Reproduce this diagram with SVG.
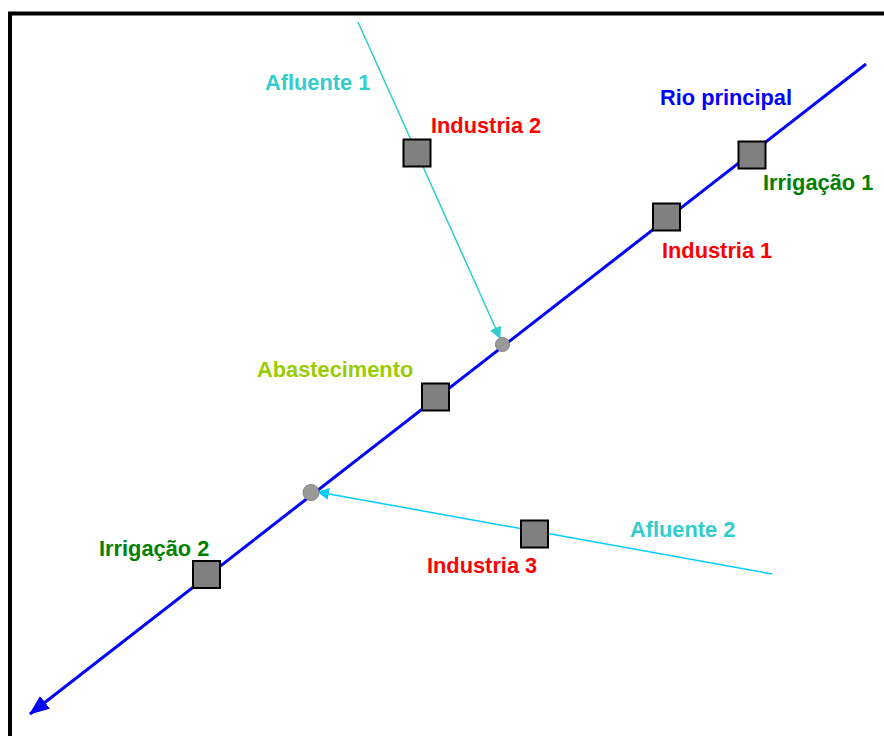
<svg xmlns="http://www.w3.org/2000/svg" width="884" height="736" viewBox="0 0 884 736">
<style>
.lbl{font-family:"Liberation Sans",Arial,sans-serif;font-weight:bold;font-size:21.8px}
.node rect{fill:#808080;stroke:#000;stroke-width:2}
.junc{fill:#999999;stroke:#808080;stroke-width:1}
</style>
<defs>
<marker id="ahBlue" markerUnits="userSpaceOnUse" markerWidth="20" markerHeight="16" viewBox="0 0 20 16" refX="19" refY="8" orient="auto">
<path d="M0,0 L20,8 L0,16 z" fill="#0000FF"/>
</marker>
<marker id="ahCyan" markerUnits="userSpaceOnUse" markerWidth="12" markerHeight="12" viewBox="0 0 12 12" refX="11" refY="6" orient="auto">
<path d="M0,0 L12,6 L0,12 z" fill="#33CCCC"/>
</marker>
<marker id="ahSky" markerUnits="userSpaceOnUse" markerWidth="12" markerHeight="12" viewBox="0 0 12 12" refX="11" refY="6" orient="auto">
<path d="M0,0 L12,6 L0,12 z" fill="#00CCFF"/>
</marker>
</defs>
<rect x="0" y="0" width="884" height="736" fill="#fff"/>
<rect x="10" y="13.5" width="900" height="760" fill="none" stroke="#000" stroke-width="4"/>
<g id="connectors">
<line x1="866" y1="64" x2="30" y2="714" stroke="#0000FF" stroke-width="3" marker-end="url(#ahBlue)"/>
<line x1="358" y1="22" x2="500" y2="338" stroke="#33CCCC" stroke-width="1.5" marker-end="url(#ahCyan)"/>
<line x1="772" y1="574" x2="318" y2="492" stroke="#00CCFF" stroke-width="1.5" marker-end="url(#ahSky)"/>
</g>
<g id="junction1"><circle class="junc" cx="502.5" cy="344.5" r="7"/></g>
<g id="junction2"><circle class="junc" cx="311" cy="492.5" r="8"/></g>
<g id="industria2" class="node"><rect x="403.5" y="139.5" width="27" height="27"/><text class="lbl" x="431" y="133" fill="#FF0000">Industria 2</text></g>
<g id="irrigacao1" class="node"><rect x="738.5" y="141.5" width="27" height="27"/><text class="lbl" x="763" y="190" fill="#008000">Irrigação 1</text></g>
<g id="industria1" class="node"><rect x="653" y="203.5" width="27" height="27"/><text class="lbl" x="662" y="258" fill="#FF0000">Industria 1</text></g>
<g id="abastecimento" class="node"><rect x="422" y="383.5" width="27" height="27"/><text class="lbl" x="257" y="377" fill="#99CC00">Abastecimento</text></g>
<g id="irrigacao2" class="node"><rect x="193" y="561" width="27" height="27"/><text class="lbl" x="99" y="556" fill="#008000">Irrigação 2</text></g>
<g id="industria3" class="node"><rect x="521" y="520.5" width="27" height="27"/><text class="lbl" x="427" y="573" fill="#FF0000">Industria 3</text></g>
<g id="afluente1"><text class="lbl" x="265" y="90" fill="#33CCCC">Afluente 1</text></g>
<g id="afluente2"><text class="lbl" x="630" y="537" fill="#33CCCC">Afluente 2</text></g>
<g id="rio"><text class="lbl" x="660" y="105" fill="#0000FF">Rio principal</text></g>
</svg>
